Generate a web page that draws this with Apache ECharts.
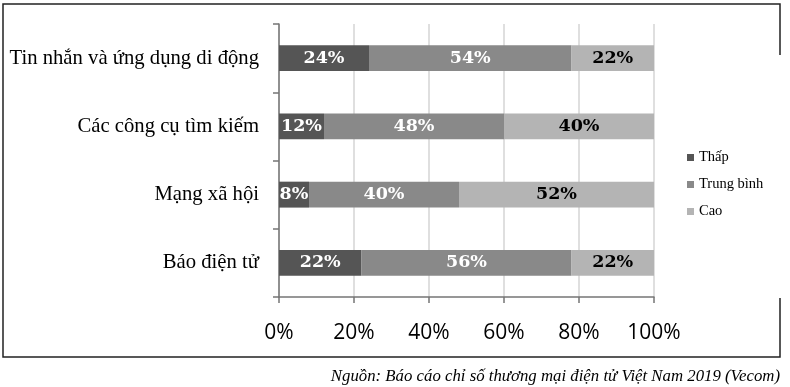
<!DOCTYPE html>
<html>
<head>
<meta charset="utf-8">
<script src="https://cdn.jsdelivr.net/npm/echarts@6/dist/echarts.min.js"></script>
<style>html,body{margin:0;padding:0;background:#fff}#c{width:790px;height:387px}</style>
</head>
<body>
<div id="c"></div>
<script>
const categories = ['Tin nhắn và ứng dụng di động', 'Các công cụ tìm kiếm', 'Mạng xã hội', 'Báo điện tử'];
const seriesNames = ['Thấp', 'Trung bình', 'Cao'];
const thap = [24, 12, 8, 22];
const trungBinh = [54, 48, 40, 56];
const cao = [22, 40, 52, 22];
const xTicks = [0, 20, 40, 60, 80, 100];
const sourceText = 'Nguồn: Báo cáo chỉ số thương mại điện tử Việt Nam 2019 (Vecom)';

const colors = ['#555555', '#898989', '#b4b4b4'];
const labelColors = ['#ffffff', '#ffffff', '#000000'];
const serif = '"DejaVu Serif", serif';

const chart = echarts.init(document.getElementById('c'), null, {renderer: 'canvas'});
const mk = (name, data, i) => ({
  name, type: 'bar', stack: 'all', data, barWidth: '38%',
  itemStyle: {color: colors[i]},
  label: {show: true, position: 'inside', formatter: '{c}%', color: labelColors[i],
          fontFamily: serif, fontWeight: 'bold', fontSize: 17.5}
});
chart.setOption({
  animation: false,
  color: colors,
  grid: {left: 279, right: 136, top: 24, height: 273, containLabel: false},
  legend: {
    orient: 'vertical', left: 682, top: 145, itemWidth: 7, itemHeight: 7, itemGap: 12,
    icon: 'rect', data: seriesNames, itemStyle: {borderWidth: 0},
    textStyle: {fontFamily: '"Liberation Serif", serif', fontSize: 14.5, color: '#000'}
  },
  xAxis: {
    type: 'value', min: xTicks[0], max: xTicks[xTicks.length - 1], interval: 20,
    axisLine: {show: true, lineStyle: {color: '#767676', width: 1.5}},
    axisTick: {show: true, length: 6, lineStyle: {color: '#767676', width: 1.5}},
    splitLine: {show: true, lineStyle: {color: '#d4d4d4', width: 1.5}},
    axisLabel: {formatter: '{value}%', margin: 26, color: '#000',
                fontFamily: '"Open Sans", sans-serif', fontSize: 21}
  },
  yAxis: {
    type: 'category', inverse: true, data: categories,
    axisLine: {show: true, lineStyle: {color: '#767676', width: 1.5}},
    axisTick: {show: true, length: 6, lineStyle: {color: '#767676', width: 1.5}},
    axisLabel: {margin: 20, color: '#000', fontFamily: '"Liberation Serif", serif', fontSize: 20.7}
  },
  graphic: [
    {type: 'polyline', shape: {points: [[780, 55], [780, 4], [3, 4], [3, 357], [780, 357], [780, 298]]},
     style: {stroke: '#222', lineWidth: 1.5, fill: null}},
    {type: 'text', right: 10, top: 368,
     style: {text: sourceText, font: 'italic 16.8px "Liberation Serif", serif', fill: '#000'}}
  ],
  series: [mk(seriesNames[0], thap, 0), mk(seriesNames[1], trungBinh, 1), mk(seriesNames[2], cao, 2)]
});
</script>
</body>
</html>
